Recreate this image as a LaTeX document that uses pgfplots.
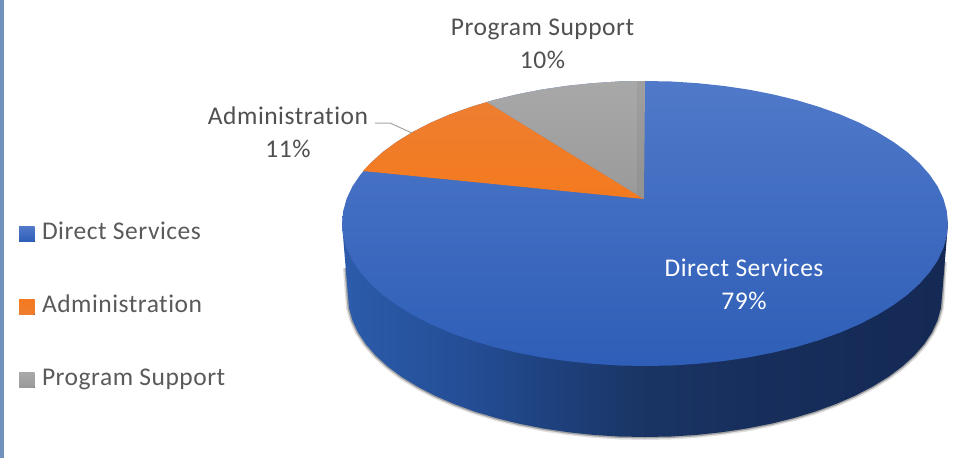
\documentclass[border=0pt]{standalone}
\usepackage{pgfplots}
\usepackage{pgfplotstable}
\usepackage{fontspec}
\setmainfont{Carlito}[LetterSpace=2,Ligatures=NoCommon]
\pgfplotsset{compat=1.18}
\definecolor{txt}{HTML}{505050}
\definecolor{legtxt}{HTML}{5A5A5A}
\definecolor{dsA}{HTML}{5079C9}
\definecolor{dsB}{HTML}{3C6BC4}
\definecolor{dsC}{HTML}{2E5EB7}
\definecolor{orA}{HTML}{EE7E30}
\definecolor{orB}{HTML}{F47A1E}
\definecolor{grA}{HTML}{A8A8A8}
\definecolor{grB}{HTML}{9A9A9A}
\pgfdeclarehorizontalshading{pieside2}{100bp}{
 rgb(0bp)=(0.17,0.36,0.67);
 rgb(25bp)=(0.17,0.36,0.67);
 rgb(36bp)=(0.14,0.30,0.58);
 rgb(44bp)=(0.115,0.245,0.47);
 rgb(50bp)=(0.10,0.205,0.39);
 rgb(60bp)=(0.09,0.18,0.36);
 rgb(75bp)=(0.08,0.16,0.33);
 rgb(100bp)=(0.08,0.16,0.33)}
% top face of the pie, pixel coordinates of the reference
\pgfplotstableread{
x y
645 81
671.4 81.5
697.6 83.2
723.4 85.9
748.6 89.6
773 94.4
796.5 100.1
818.8 106.8
839.8 114.3
859.3 122.7
877.1 131.9
893.2 141.8
907.4 152.2
919.6 163.3
929.7 174.8
937.7 186.6
943.4 198.8
946.8 211.1
948 223.5
946.8 235.9
943.4 248.2
937.7 260.4
929.7 272.2
919.6 283.7
907.4 294.8
893.2 305.2
877.1 315.1
859.3 324.3
839.8 332.7
818.8 340.2
796.5 346.9
773 352.6
748.6 357.4
723.4 361.1
697.6 363.8
671.4 365.5
645 366
618.6 365.5
592.4 363.8
566.6 361.1
541.4 357.4
517 352.6
493.5 346.9
471.2 340.2
450.2 332.7
430.7 324.3
412.9 315.1
396.8 305.2
382.6 294.8
370.4 283.7
360.3 272.2
352.3 260.4
346.6 248.2
343.2 235.9
342 223.5
343.2 211.1
346.6 198.8
352.3 186.6
360.3 174.8
370.4 163.3
382.6 152.2
396.8 141.8
412.9 131.9
430.7 122.7
450.2 114.3
471.2 106.8
493.5 100.1
517 94.4
541.4 89.6
566.6 85.9
592.4 83.2
618.6 81.5
645 81
}\toptable
% side wall outline
\pgfplotstableread{
x y
342 223.5
348 296
349.1 308.3
352.5 320.5
358.1 332.5
365.9 344.2
375.8 355.6
387.8 366.5
401.7 376.9
417.5 386.6
435 395.7
454.1 404
474.6 411.5
496.5 418.1
519.5 423.8
543.4 428.5
568.1 432.2
593.4 434.9
619.1 436.5
645 437
670.9 436.5
696.6 434.9
721.9 432.2
746.6 428.5
770.5 423.8
793.5 418.1
815.4 411.5
835.9 404
855 395.7
872.5 386.6
888.3 376.9
902.2 366.5
914.2 355.6
924.1 344.2
931.9 332.5
937.5 320.5
940.9 308.3
942 296
948 223.5
}\sidetable
% the outline without its two straight upper ends
\pgfplotstableread{
x y
346 268
348 296
349.1 308.3
352.5 320.5
358.1 332.5
365.9 344.2
375.8 355.6
387.8 366.5
401.7 376.9
417.5 386.6
435 395.7
454.1 404
474.6 411.5
496.5 418.1
519.5 423.8
543.4 428.5
568.1 432.2
593.4 434.9
619.1 436.5
645 437
670.9 436.5
696.6 434.9
721.9 432.2
746.6 428.5
770.5 423.8
793.5 418.1
815.4 411.5
835.9 404
855 395.7
872.5 386.6
888.3 376.9
902.2 366.5
914.2 355.6
924.1 344.2
931.9 332.5
937.5 320.5
940.9 308.3
942 296
944 262
}\shadowtable
\pgfplotstableread{
x y
644 199
645 81
618.6 81.5
592.4 83.2
566.6 85.9
541.4 89.6
517 94.4
493.5 100.1
487 102
644 199
}\graytable
\pgfplotstableread{
x y
644 199
487 102
471.2 106.8
450.2 114.3
430.7 122.7
412.9 131.9
396.8 141.8
382.6 152.2
370.4 163.3
363 171
644 199
}\orangetable
\begin{document}
\begin{tikzpicture}
\begin{axis}[
  x=1pt,y=1pt,scale only axis,
  xmin=0,xmax=971,ymin=0,ymax=458,y dir=reverse,
  hide axis,clip=true,
  legend style={at={(axis cs:19,222.5)},anchor=north west,draw=none,fill=none,
    font=\fontsize{25.5}{25.5}\selectfont\color{legtxt},
    row sep=50pt,inner sep=0pt,outer sep=0pt,
    nodes={inner sep=0pt,anchor=west,text height=17pt,text depth=6pt}},
  legend cell align=left,
  legend image code/.code={
    \path[draw=none] (0pt,0pt) -- (23pt,0pt);
    \fill[draw=none,#1] (0pt,-7.5pt) rectangle (15.5pt,7.5pt);
  },
]
\addlegendimage{top color=dsA,bottom color=dsC}
\addlegendimage{top color=orB,bottom color=orA}
\addlegendimage{top color=grA,bottom color=grB}
\addlegendentry{Direct Services}
\addlegendentry{Administration}
\addlegendentry{Program Support}
% page background, sets the size of the picture
\addplot[forget plot,draw=none,fill=white] coordinates {(0,0)(971,0)(971,458)(0,458)} --cycle;
% left page rule
\addplot[forget plot,draw=none,fill={rgb,255:red,112;green,146;blue,190}] coordinates {(0,0)(3.5,0)(3.5,458)(0,458)} --cycle;
% shadow
\addplot[forget plot,no markers,draw=black,opacity=0.12,line width=6pt] table {\shadowtable};
\addplot[forget plot,no markers,draw=black,opacity=0.28,line width=3pt] table {\shadowtable};
% side wall
\addplot[forget plot,no markers,draw=none,shading=pieside2] table {\sidetable} --cycle;
% top
\addplot[forget plot,no markers,draw=none,top color=dsA,middle color=dsB,bottom color=dsC] table {\toptable} --cycle;
\addplot[forget plot,no markers,draw=none,top color=orA,bottom color=orB] table {\orangetable} --cycle;
\addplot[forget plot,no markers,draw=none,top color=grA,bottom color=grB] table {\graytable} --cycle;
% darker band along the right edge of the grey slice
\addplot[forget plot,no markers,draw=none,fill=black,fill opacity=0.05] coordinates {(637,81.1)(644.5,81)(644.5,199)(637,194.5)} --cycle;
% leader line
\addplot[forget plot,no markers,draw={rgb,255:red,166;green,166;blue,166},line width=1pt] coordinates {(375,123)(390,123)(412,133)};
% labels
\node[anchor=base,font=\fontsize{25.5}{25.5}\selectfont,text=txt] at (axis cs:542.5,35.5) {Program Support};
\node[anchor=base,font=\fontsize{25.5}{25.5}\selectfont,text=txt] at (axis cs:542.5,68.5) {10\%};
\node[anchor=base,font=\fontsize{25.5}{25.5}\selectfont,text=txt] at (axis cs:288,124) {Administration};
\node[anchor=base,font=\fontsize{25.5}{25.5}\selectfont,text=txt] at (axis cs:288,157) {11\%};
\node[anchor=base,font=\fontsize{25.5}{25.5}\selectfont,text=white] at (axis cs:744,276) {Direct Services};
\node[anchor=base,font=\fontsize{25.5}{25.5}\selectfont,text=white] at (axis cs:744,309) {79\%};
\end{axis}
\end{tikzpicture}
\end{document}
